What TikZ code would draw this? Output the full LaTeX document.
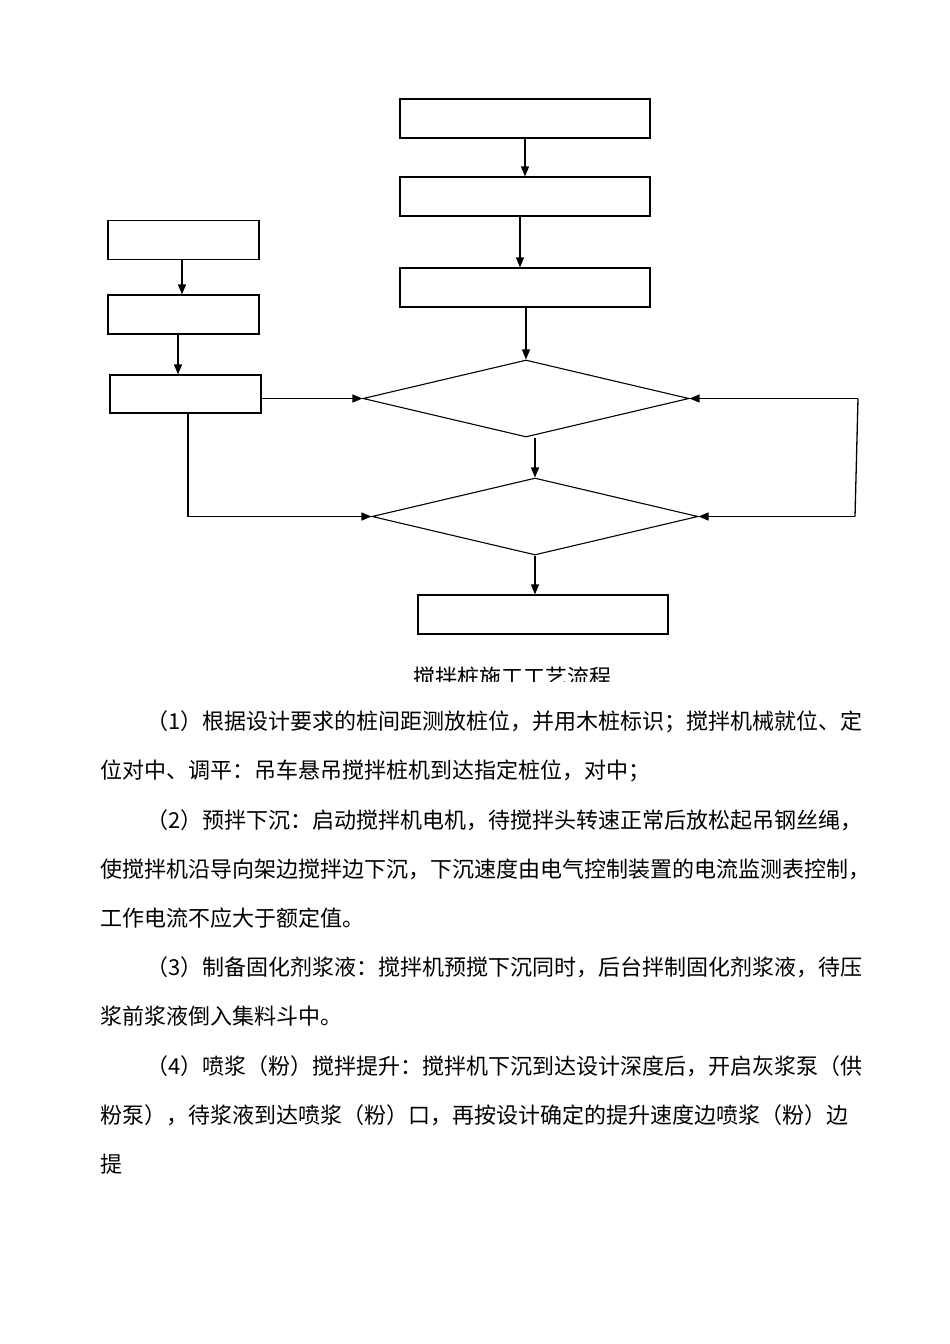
\documentclass[tikz,border=0pt]{standalone}
\usepackage{fontspec}
\newfontfamily\cjk{Noto Sans CJK SC}
\usetikzlibrary{shapes.geometric,arrows.meta}
\XeTeXinterchartokenstate=1
\XeTeXinterchartoks 1 1 = {\hskip 0pt plus 1pt}
\XeTeXinterchartoks 1 2 = {\hskip 0pt plus 1pt}
\XeTeXinterchartoks 1 3 = {\hskip 0pt plus 1pt}
\XeTeXinterchartoks 3 1 = {\hskip 0pt plus 1pt}
\XeTeXinterchartoks 3 2 = {\hskip 0pt plus 1pt}
\XeTeXinterchartoks 3 3 = {\hskip 0pt plus 1pt}
\XeTeXinterchartoks 2 1 = {\hskip 0pt plus 1pt}
\begin{document}
\begin{tikzpicture}[x=1pt,y=-1pt,
  box/.style={draw,line width=1.1pt,minimum width=250pt,minimum height=39pt,inner sep=0pt},
  sbox/.style={draw,line width=1.1pt,minimum width=151pt,minimum height=39pt,inner sep=0pt},
  dia/.style={draw,diamond,line width=1.1pt,minimum width=326pt,minimum height=77pt,inner sep=0pt,aspect=4.2},
  arr/.style={line width=1.3pt,-{Triangle[length=10pt,width=8pt]}},
  ln/.style={line width=1.3pt},
  para/.style={anchor=west,inner sep=0pt,font=\cjk\fontsize{22pt}{22pt}\selectfont}]
\useasboundingbox (0,0) rectangle (950,1344);
\fill[white] (0,0) rectangle (950,1344);
% boxes
\node[box] (A) at (525,118.5) {};
\node[box] (B) at (525,196.5) {};
\node[box] (C) at (525,287.5) {};
\node[sbox] (L1) at (183.5,240) {};
\node[sbox] (L2) at (183.5,314.5) {};
\node[sbox,minimum height=38pt] (L3) at (185.5,394) {};
\node[dia] (D1) at (526,398.5) {};
\node[dia] (D2) at (535,516.5) {};
\node[box] (E) at (543,614.5) {};
% connectors
\draw[arr] (A.south) -- (B.north);
\draw[arr] ([xshift=-5pt]B.south) -- ([xshift=-5pt]C.north);
\draw[arr] (D1.north |- C.south) -- (D1.north);
\draw[arr] ([xshift=-1.5pt]L1.south) -- ([xshift=-1.5pt]L2.north);
\draw[arr] ([xshift=-5.5pt]L2.south) -- ([xshift=-7.5pt]L3.north);
\draw[arr] (L3.east |- D1.west) -- (D1.west);
\coordinate (l3b) at ([xshift=2.5pt]L3.south);
\draw[ln] (l3b) -- (l3b |- D2.west);
\draw[arr] (l3b |- D2.west) -- (D2.west);
\draw[arr] (D2.north |- D1.south) -- (D2.north);
\coordinate (r1) at (858,398.5);
\coordinate (r2) at (855,516.5);
\draw[arr] (r1) -- (D1.east);
\draw[ln] (r1) -- (r2);
\draw[arr] (r2) -- (D2.east);
\draw[arr] (D2.south) -- (D2.south |- E.north);
% caption (cut off)
\begin{scope}
\clip (300,640) rectangle (700,681);
\node[inner sep=0pt,font=\cjk\fontsize{22pt}{22pt}\selectfont] (cap) at (512,677) {搅拌桩施工工艺流程};
\end{scope}
% paragraphs
\node[para] (p1) at (146,722) {\makebox[720pt][s]{（1）根据设计要求的桩间距测放桩位，并用木桩标识；搅拌机械就位、定}};
\node[para] (p2) at (100,771) {位对中、调平：吊车悬吊搅拌桩机到达指定桩位，对中；};
\node[para] (p3) at (146,820) {\makebox[720pt][s]{（2）预拌下沉：启动搅拌机电机，待搅拌头转速正常后放松起吊钢丝绳，}};
\node[para] (p4) at (100,869) {\makebox[766pt][s]{使搅拌机沿导向架边搅拌边下沉，下沉速度由电气控制装置的电流监测表控制，}};
\node[para] (p5) at (100,918) {工作电流不应大于额定值。};
\node[para] (p6) at (146,967) {\makebox[720pt][s]{（3）制备固化剂浆液：搅拌机预搅下沉同时，后台拌制固化剂浆液，待压}};
\node[para] (p7) at (100,1016) {浆前浆液倒入集料斗中。};
\node[para] (p8) at (146,1066) {\makebox[720pt][s]{（4）喷浆（粉）搅拌提升：搅拌机下沉到达设计深度后，开启灰浆泵（供}};
\node[para] (p9) at (100,1115) {\makebox[755pt][s]{粉泵），待浆液到达喷浆（粉）口，再按设计确定的提升速度边喷浆（粉）边}};
\node[para] (p10) at (100,1164) {提};
\end{tikzpicture}
\end{document}
